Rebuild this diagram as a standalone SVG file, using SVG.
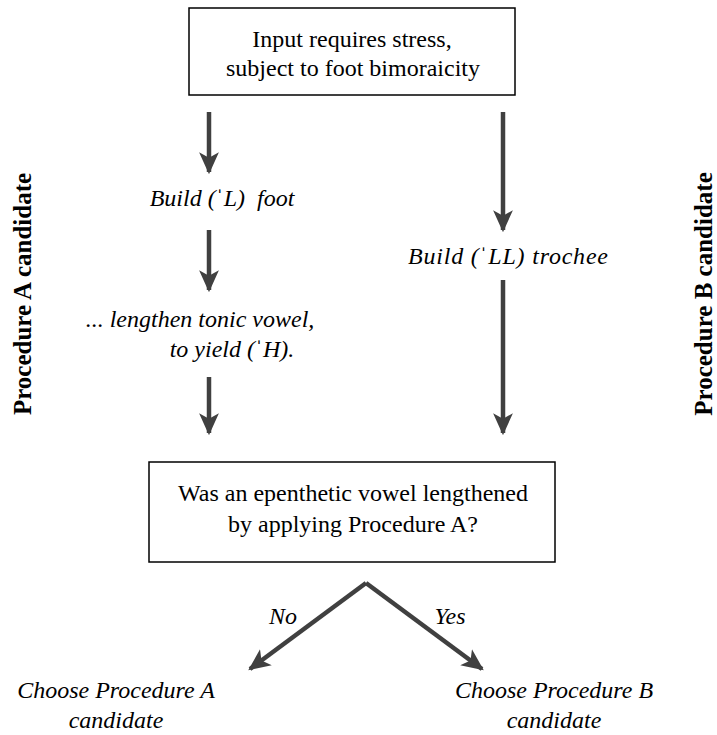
<svg xmlns="http://www.w3.org/2000/svg" width="717" height="735" viewBox="0 0 717 735">
<style>
text{font-family:"Liberation Serif","Times New Roman",serif;font-size:24px;fill:#000}
.it{font-style:italic}
.side{font-weight:bold;font-size:25px}
.box{fill:#fff;stroke:#000;stroke-width:1.5}
.arr{stroke:#404040;stroke-width:4.5;fill:none;marker-end:url(#ah)}
</style>
<defs>
<marker id="ah" markerUnits="userSpaceOnUse" markerWidth="22" markerHeight="22" refX="18" refY="10" orient="auto" viewBox="0 0 20 20">
<path d="M0,1 L20,10 L0,19 L5,10 Z" fill="#404040"/>
</marker>
</defs>
<rect width="717" height="735" fill="#fff"/>
<g id="connectors">
<line class="arr" x1="209" y1="112" x2="209" y2="172"/>
<line class="arr" x1="209" y1="230" x2="209" y2="290"/>
<line class="arr" x1="209" y1="377" x2="209" y2="433"/>
<line class="arr" x1="503" y1="112" x2="503" y2="230"/>
<line class="arr" x1="503" y1="280" x2="503" y2="433"/>
<line class="arr" x1="366" y1="583" x2="250" y2="669"/>
<line class="arr" x1="366" y1="583" x2="482" y2="669"/>
<text class="it" x="283" y="624" text-anchor="middle">No</text>
<text class="it" x="450" y="624" text-anchor="middle">Yes</text>
</g>
<g id="start">
<rect class="box" x="189" y="8" width="326" height="87"/>
<text x="352" y="47" text-anchor="middle">Input requires stress,</text>
<text x="353" y="76" text-anchor="middle">subject to foot bimoraicity</text>
</g>
<g id="buildL">
<text class="it" x="222" y="206" text-anchor="middle" xml:space="preserve">Build (ˈL)  foot</text>
</g>
<g id="lengthen">
<text class="it" x="200" y="327" text-anchor="middle">... lengthen tonic vowel,</text>
<text class="it" x="232" y="357" text-anchor="middle">to yield (ˈH).</text>
</g>
<g id="buildLL">
<text class="it" x="508" y="264" text-anchor="middle" textLength="200" lengthAdjust="spacing">Build (ˈLL) trochee</text>
</g>
<g id="question">
<rect class="box" x="149" y="462" width="406" height="100"/>
<text x="353" y="501" text-anchor="middle">Was an epenthetic vowel lengthened</text>
<text x="353" y="532" text-anchor="middle">by applying Procedure A?</text>
</g>
<g id="chooseA">
<text class="it" x="116" y="698" text-anchor="middle">Choose Procedure A</text>
<text class="it" x="116" y="728" text-anchor="middle">candidate</text>
</g>
<g id="chooseB">
<text class="it" x="554" y="698" text-anchor="middle">Choose Procedure B</text>
<text class="it" x="554" y="728" text-anchor="middle">candidate</text>
</g>
<g id="sideA">
<text class="side" transform="translate(31,294) rotate(-90)" text-anchor="middle">Procedure A candidate</text>
</g>
<g id="sideB">
<text class="side" transform="translate(712,294) rotate(-90)" text-anchor="middle">Procedure B candidate</text>
</g>
</svg>
